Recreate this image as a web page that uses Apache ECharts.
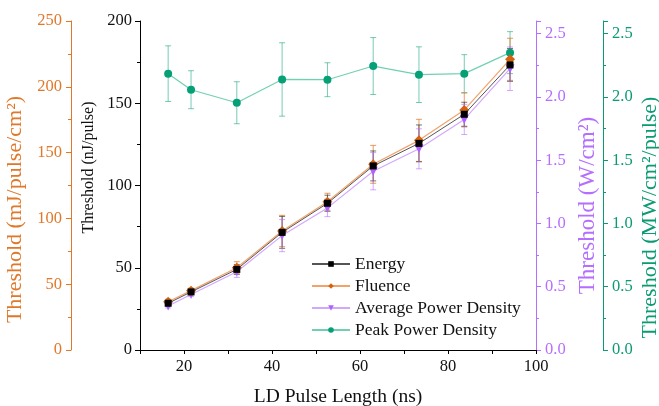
<!DOCTYPE html>
<html>
<head>
<meta charset="utf-8">
<script src="https://cdn.jsdelivr.net/npm/echarts@6/dist/echarts.min.js"></script>
<style>
html,body{margin:0;padding:0;background:#fff;}
#chart{width:659px;height:406px;}
</style>
</head>
<body>
<div id="chart"></div>
<script>
// ---- data ----
const pulseLength = [16.4, 21.6, 32, 42.3, 52.6, 63, 73.4, 83.7, 94.1];
const energy      = [28.4, 35.3, 49.0, 71.5, 89.2, 111.9, 125.6, 143.3, 173.3];
const energyErr   = [1.2, 1.2, 3.0, 9.7, 4.9, 9.1, 11.2, 7.3, 10.0];
const fluence     = [36.7, 45.1, 62.5, 90.4, 112.7, 141.1, 159.3, 182.4, 220.9];
const fluenceErr  = [1.9, 1.9, 4.6, 11.9, 6.4, 14.4, 16.0, 12.9, 16.0];
const avgPower    = [0.348, 0.438, 0.619, 0.904, 1.123, 1.413, 1.590, 1.822, 2.223];
const avgPowerErr = [0.016, 0.016, 0.045, 0.127, 0.069, 0.147, 0.158, 0.119, 0.172];
const peakPower   = [2.184, 2.057, 1.954, 2.138, 2.136, 2.244, 2.176, 2.184, 2.350];
const peakPowerErr= [0.22, 0.15, 0.166, 0.29, 0.134, 0.225, 0.22, 0.15, 0.166];
const xTicks = [20, 40, 60, 80, 100];
const powerTicks = [0, 0.5, 1.0, 1.5, 2.0, 2.5];

const FONT = 'Liberation Serif';
const C_BLACK = '#000000';
const C_ORANGE = '#E0782A';
const C_ORANGE_M = '#D4620F';
const C_PURPLE = '#B56EFF';
const C_PURPLE_M = '#B062FF';
const C_GREEN = '#0A9B73';
const C_GREEN_M = '#06A077';

function pts(vals, errs) { return pulseLength.map((x, i) => [x, vals[i], errs ? errs[i] : 0]); }

function errRender(color) {
  return function (params, api) {
    const x = api.value(0), y = api.value(1), e = api.value(2);
    const t = api.coord([x, y + e]);
    const b = api.coord([x, y - e]);
    const w = 3;
    const st = { stroke: color, lineWidth: 1 };
    return {
      type: 'group',
      children: [
        { type: 'line', shape: { x1: t[0], y1: t[1], x2: b[0], y2: b[1] }, style: st },
        { type: 'line', shape: { x1: t[0] - w, y1: t[1], x2: t[0] + w, y2: t[1] }, style: st },
        { type: 'line', shape: { x1: b[0] - w, y1: b[1], x2: b[0] + w, y2: b[1] }, style: st }
      ]
    };
  };
}

function yAx(opts) {
  const c = opts.color;
  return Object.assign({
    type: 'value',
    nameLocation: 'middle',
    nameRotate: 90,
    splitLine: { show: false },
    axisLine: { show: true, onZero: false, lineStyle: { color: c, width: 1 } },
    axisTick: { show: true, inside: false, length: 5, lineStyle: { color: c } },
    minorTick: { show: true, splitNumber: 2, length: 3, lineStyle: { color: c } },
    axisLabel: { color: c, fontFamily: FONT, fontSize: 16.5, margin: 9 },
    nameTextStyle: { color: c, fontFamily: FONT, fontSize: 20 }
  }, opts.extra);
}

const powerFmt = v => (powerTicks.some(t => Math.abs(t - v) < 1e-6) ? v.toFixed(1) : '');

const chart = echarts.init(document.getElementById('chart'), null, { renderer: 'canvas' });
const option = {
  animation: false,
  backgroundColor: '#ffffff',
  textStyle: { fontFamily: FONT },
  grid: { left: 140, right: 123, top: 21, bottom: 56, containLabel: false, outerBoundsMode: 'none' },
  legend: {
    orient: 'vertical',
    left: 306,
    top: 250,
    itemWidth: 38,
    itemHeight: 7,
    itemGap: 4,
    data: ['Energy', 'Fluence', 'Average Power Density', 'Peak Power Density'],
    textStyle: { fontFamily: FONT, fontSize: 17.5, color: '#111', lineHeight: 18 }
  },
  xAxis: {
    type: 'value',
    min: 10, max: 100, interval: 10,
    name: 'LD Pulse Length (ns)',
    nameLocation: 'middle',
    nameGap: 37,
    nameTextStyle: { color: '#111', fontFamily: FONT, fontSize: 19.5 },
    splitLine: { show: false },
    axisLine: { show: true, onZero: false, lineStyle: { color: '#000', width: 1 } },
    axisTick: { show: true, inside: false, length: 4, lineStyle: { color: '#000' } },
    axisLabel: {
      color: '#111', fontFamily: FONT, fontSize: 16.5, margin: 8,
      formatter: v => (xTicks.indexOf(v) >= 0 ? String(v) : '')
    }
  },
  yAxis: [
    yAx({ color: C_BLACK, extra: {
      position: 'left', offset: 0, min: 0, max: 200, interval: 50,
      name: 'Threshold (nJ/pulse)', nameGap: 40,
      nameTextStyle: { color: '#111', fontFamily: FONT, fontSize: 16, padding: [0, 0, 0, 36] },
      axisLabel: { color: '#111', fontFamily: FONT, fontSize: 16.5, margin: 8 }
    } }),
    yAx({ color: C_ORANGE, extra: {
      position: 'left', offset: 69, min: 0, max: 250, interval: 50,
      name: 'Threshold (mJ/pulse/cm²)', nameGap: 39,
      nameTextStyle: { color: C_ORANGE, fontFamily: FONT, fontSize: 22, padding: [0, 48, 0, 0] }
    } }),
    yAx({ color: C_PURPLE, extra: {
      position: 'right', offset: 0, min: 0, max: 2.6, interval: 0.5,
      name: 'Threshold (W/cm²)', nameGap: 40,
      nameTextStyle: { color: C_PURPLE, fontFamily: FONT, fontSize: 23, padding: [0, 40, 0, 0] },
      axisLabel: { color: C_PURPLE, fontFamily: FONT, fontSize: 16.5, margin: 9, formatter: powerFmt }
    } }),
    yAx({ color: C_GREEN, extra: {
      position: 'right', offset: 67, min: 0, max: 2.6, interval: 0.5,
      name: 'Threshold (MW/cm²/pulse)', nameGap: 36, nameMoveOverlap: false,
      nameTextStyle: { color: C_GREEN, fontFamily: FONT, fontSize: 22, padding: [0, 64, 0, 0] },
      axisLabel: { color: C_GREEN, fontFamily: FONT, fontSize: 16.5, margin: 9, formatter: powerFmt }
    } })
  ],
  series: [
    { name: 'errPeak', type: 'custom', xAxisIndex: 0, yAxisIndex: 3, renderItem: errRender('rgba(10,160,120,0.55)'),
      data: pts(peakPower, peakPowerErr), encode: { x: 0, y: 1 }, z: 1, silent: true },
    { name: 'errFluence', type: 'custom', xAxisIndex: 0, yAxisIndex: 1, renderItem: errRender('rgba(224,120,42,0.75)'),
      data: pts(fluence, fluenceErr), encode: { x: 0, y: 1 }, z: 1, silent: true },
    { name: 'errEnergy', type: 'custom', xAxisIndex: 0, yAxisIndex: 0, renderItem: errRender('rgba(60,60,60,0.7)'),
      data: pts(energy, energyErr), encode: { x: 0, y: 1 }, z: 1, silent: true },
    { name: 'errAvg', type: 'custom', xAxisIndex: 0, yAxisIndex: 2, renderItem: errRender('rgba(181,110,255,0.6)'),
      data: pts(avgPower, avgPowerErr), encode: { x: 0, y: 1 }, z: 1, silent: true },
    { name: 'Peak Power Density', type: 'line', yAxisIndex: 3, data: pts(peakPower),
      symbol: 'circle', symbolSize: 8, color: C_GREEN_M,
      lineStyle: { color: '#72D0B2', width: 1.2 }, itemStyle: { color: C_GREEN_M }, z: 3 },
    { name: 'Average Power Density', type: 'line', yAxisIndex: 2, data: pts(avgPower),
      symbol: 'triangle', symbolRotate: 180, symbolSize: 9, color: C_PURPLE_M,
      lineStyle: { color: '#D2A8FF', width: 1.2 }, itemStyle: { color: C_PURPLE_M }, z: 3 },
    { name: 'Fluence', type: 'line', yAxisIndex: 1, data: pts(fluence),
      symbol: 'diamond', symbolSize: 10, color: C_ORANGE_M,
      lineStyle: { color: '#F2A36A', width: 1.2 }, itemStyle: { color: C_ORANGE_M }, z: 4 },
    { name: 'Energy', type: 'line', yAxisIndex: 0, data: pts(energy),
      symbol: 'rect', symbolSize: 7, color: '#000',
      lineStyle: { color: '#555555', width: 1 }, itemStyle: { color: '#000' }, z: 5 }
  ]
};
chart.setOption(option);
</script>
</body>
</html>
